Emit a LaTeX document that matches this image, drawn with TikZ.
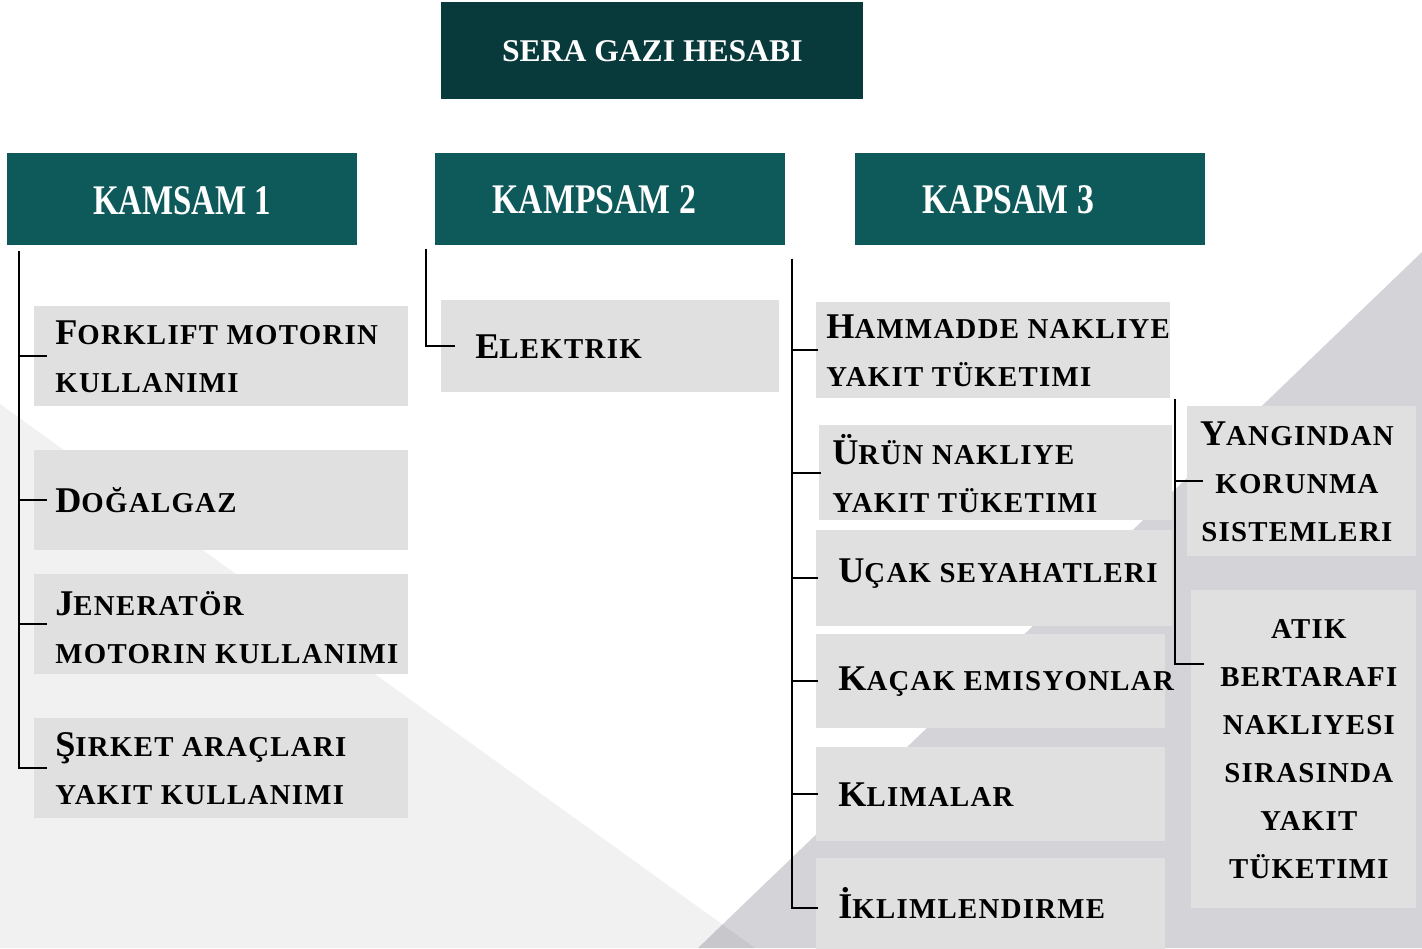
\documentclass[tikz,border=0pt]{standalone}
\usepackage{fontspec}
\setmainfont{Liberation Serif}
\usepackage{graphicx}
\usepackage{xcolor}
\definecolor{sgtitle}{RGB}{8,58,59}
\definecolor{sgteal}{RGB}{14,90,91}
\definecolor{sgbox}{RGB}{224,224,224}
\definecolor{sglight}{RGB}{241,241,241}
\definecolor{sgdark}{RGB}{211,211,216}
\usetikzlibrary{calc}
\newcommand{\bc}[1]{{\fontsize{20.6}{27.3}\selectfont #1}}

\begin{document}
\begin{tikzpicture}[x=0.02cm,y=-0.02cm,
  gbox/.style 2 args={fill=sgbox,anchor=north west,minimum width=#1,minimum height=#2,inner sep=0pt},
  hbox/.style={fill=sgteal,anchor=north west,minimum width=7cm,minimum height=1.84cm,inner sep=0pt},
  txt/.style={font=\fontsize{16.4}{27.3}\selectfont\bfseries\addfontfeature{LetterSpace=4.5},align=left,anchor=west,inner sep=0pt},
  ctxt/.style={txt,align=center,anchor=center},
  htxt/.style={font=\fontsize{24}{26}\selectfont\bfseries,text=white,inner sep=0pt,anchor=center},
  conn/.style={line width=1.1pt}]
% ---- zemin ----
\fill[white] (0,0) rectangle (1422,948);
\useasboundingbox (0,0) rectangle (1422,948);
\fill[sglight] (0,404) -- (755,948) -- (0,948) -- cycle;
\fill[sgdark,blend mode=multiply] (1422,252) -- (1422,948) -- (698,948) -- cycle;
% ---- basliklar ----
\node[hbox,fill=sgtitle,minimum width=8.44cm,minimum height=1.94cm,
  label={[htxt,font=\fontsize{18}{20}\selectfont\bfseries]center:SERA GAZI HESABI}] (title) at (441,2) {};
\node[hbox,label={[htxt,yshift=-0.03cm]center:{\scalebox{0.78}[1]{KAMSAM 1}}}] (k1) at (7,153) {};
\node[hbox,label={[htxt,xshift=-0.32cm]center:{\scalebox{0.8}[1]{KAMPSAM 2}}}] (k2) at (435,153) {};
\node[hbox,label={[htxt,xshift=-0.44cm]center:{\scalebox{0.8}[1]{KAPSAM 3}}}] (k3) at (855,153) {};
% ---- kapsam 1 ----
\node[gbox={7.48cm}{2cm},label={[txt,xshift=0.42cm]west:{\bc{F}ORKLIFT MOTORIN\\KULLANIMI}}] (fork) at (34,306) {};
\node[gbox={7.48cm}{2cm},label={[txt,xshift=0.42cm]west:{\bc{D}OĞALGAZ}}] (dogal) at (34,450) {};
\node[gbox={7.48cm}{2cm},label={[txt,xshift=0.42cm,yshift=-0.06cm]west:{\bc{J}ENERATÖR\\MOTORIN KULLANIMI}}] (jen) at (34,574) {};
\node[gbox={7.48cm}{2cm},label={[txt,xshift=0.42cm]west:{\bc{Ş}IRKET ARAÇLARI\\YAKIT KULLANIMI}}] (sirket) at (34,718) {};
% ---- kapsam 2 ----
\node[gbox={6.76cm}{1.84cm},label={[txt,xshift=0.68cm]west:{\bc{E}LEKTRIK}}] (elek) at (441,300) {};
% ---- kapsam 3 ----
\node[gbox={7.08cm}{1.92cm},label={[txt,xshift=0.2cm]west:{\bc{H}AMMADDE NAKLIYE\\YAKIT TÜKETIMI}}] (ham) at (816,302) {};
\node[gbox={7.06cm}{1.9cm},label={[txt,xshift=0.26cm,yshift=-0.02cm]west:{\bc{Ü}RÜN NAKLIYE\\YAKIT TÜKETIMI}}] (urun) at (819,425) {};
\node[gbox={7.12cm}{1.92cm},label={[txt,xshift=0.44cm,yshift=0.1cm]west:{\bc{U}ÇAK SEYAHATLERI}}] (ucak) at (816,530) {};
\node[gbox={6.98cm}{1.88cm},label={[txt,xshift=0.44cm]west:{\bc{K}AÇAK EMISYONLAR}}] (kacak) at (816,634) {};
\node[gbox={6.98cm}{1.88cm},label={[txt,xshift=0.44cm]west:{\bc{K}LIMALAR}}] (klima) at (816,747) {};
\node[gbox={6.98cm}{2cm},label={[txt,xshift=0.44cm,yshift=0.1cm]west:{\bc{İ}KLIMLENDIRME}}] (iklim) at (816,858) {};
\node[gbox={4.58cm}{3cm},label={[ctxt,xshift=-0.1cm]center:{\bc{Y}ANGINDAN\\KORUNMA\\SISTEMLERI}}] (yang) at (1187,406) {};
\node[gbox={4.5cm}{6.36cm},label={[ctxt,xshift=0.1cm]center:{ATIK\\BERTARAFI\\NAKLIYESI\\SIRASINDA\\YAKIT\\TÜKETIMI}}] (atik) at (1191,590) {};
% ---- baglantilar ----
\coordinate (c1) at ([xshift=0.24cm,yshift=-0.1cm]k1.south west);
\draw[conn] (c1) |- ([xshift=0.26cm]sirket.west);
\foreach \b in {fork,dogal,jen} \draw[conn] (c1 |- \b.west) -- ([xshift=0.26cm]\b.west);
\coordinate (c2) at ([xshift=-0.18cm,yshift=-0.06cm]k2.south west);
\draw[conn] (c2) |- ([xshift=0.28cm]elek.west);
\coordinate (c3) at ([xshift=-1.26cm,yshift=-0.26cm]k3.south west);
\draw[conn] (c3) |- ([xshift=0.04cm]iklim.west);
\foreach \b in {ham,urun,ucak,kacak,klima} \draw[conn] (c3 |- \b.west) -- ([xshift=0.04cm]\b.west);
\coordinate (c4) at ([xshift=0.08cm]ham.south east);
\draw[conn] (c4) |- ([xshift=0.26cm,yshift=-1.48cm]atik.north west);
\draw[conn] (c4 |- yang.west) -- ([xshift=0.32cm]yang.west);
\end{tikzpicture}
\end{document}
